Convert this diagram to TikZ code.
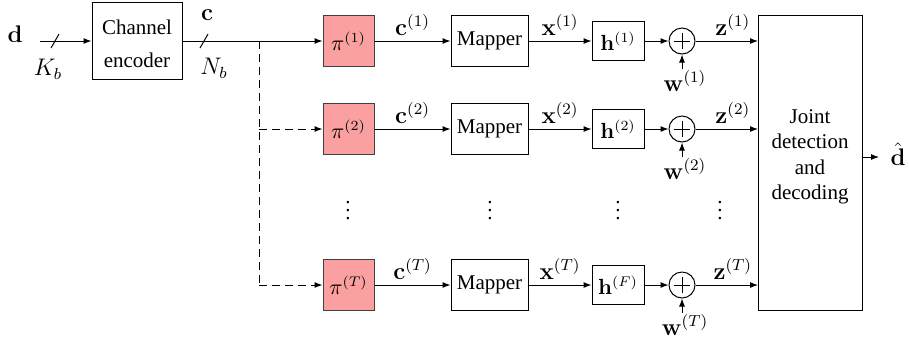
\documentclass[tikz,border=0pt]{standalone}
\usepackage[no-math]{fontspec}
\setmainfont{Liberation Serif}
\usetikzlibrary{arrows.meta}
\definecolor{piPink}{RGB}{250,160,160}
\begin{document}
\begin{tikzpicture}[x=0.5pt,y=-0.5pt,
  font=\fontsize{10.5}{12.75}\selectfont,
  >={Latex[length=4pt,width=3pt]}, line width=0.5pt,
  blk/.style={draw, inner sep=0pt},
  pibox/.style={blk, draw=black!75, fill=piPink, minimum width=25.5pt, minimum height=25.5pt},
  mapbox/.style={blk, minimum width=38.5pt, minimum height=25.5pt},
  hbox/.style={blk, minimum width=26pt, minimum height=19.5pt},
  sumnode/.style={draw, circle, inner sep=0pt, minimum size=13pt},
  lbl/.style={inner sep=1pt, font=\fontsize{12}{14}\selectfont},
  toplbl/.style={lbl, above, inner sep=2.5pt},
  dashline/.style={dash pattern=on 4pt off 2.5pt}]
\useasboundingbox (0,0) rectangle (909,339);

% input side
\node[lbl] (d) at (15,34) {$\mathbf{d}$};
\coordinate (din) at (40,41);
\node[blk, minimum width=45pt, minimum height=38.5pt] (enc) at (137,41) {};
\node[align=center, inner sep=0pt] (enct) at (137,44) {Channel\\[3.5pt]encoder};
\draw[->] (din) -- (enc.west);
\draw ([xshift=-2pt,yshift=-3.5pt]55,41) -- ([xshift=2pt,yshift=3.5pt]55,41);
\node[lbl] (kb) at (48,69) {$K_b$};
\node[lbl] (c) at (207,15) {$\mathbf{c}$};
\node[lbl] (nb) at (214,68) {$N_b$};
\draw ([xshift=-2pt,yshift=-3.5pt]204,41) -- ([xshift=2pt,yshift=3.5pt]204,41);
\coordinate (j1) at (259,41);
\coordinate (j2) at (259,129);
\coordinate (jT) at (259,285);

% rows
\foreach \r/\y/\s/\hs in {1/41/1/1, 2/129/2/2, T/285/T/F} {
  \node[pibox] (pi\r) at (348.5,\y) {$\pi^{(\s)}$};
  \node[mapbox] (map\r) at (489.5,\y) {Mapper};
  \node[hbox] (h\r) at (618,\y) {$\mathbf{h}^{(\hs)}$};
  \node[sumnode] (s\r) at (682,\y) {};
  \draw (s\r.center) +(-4pt,0) -- +(4pt,0) (s\r.center) +(0,-4pt) -- +(0,4pt);
  \coordinate (z\r) at (758,\y);
  \draw[->] (pi\r) -- node[toplbl] {$\mathbf{c}^{(\s)}$} (map\r);
  \draw[->] (map\r) -- node[toplbl] {$\mathbf{x}^{(\s)}$} (h\r);
  \draw[->] (h\r) -- (s\r);
  \draw[->] (s\r) -- node[toplbl, xshift=3pt] {$\mathbf{z}^{(\s)}$} (z\r);
  \node[lbl] (w\r) at (685,\y+40) {$\mathbf{w}^{(\s)}$};
  \coordinate (wa\r) at (682,\y+28);
  \draw[->] (wa\r) -- (s\r);
}

\draw[->] (enc.east) -- (pi1);
\draw[dashline] (j1) -- (jT);
\draw[dashline,->] (j2) -- (pi2);
\draw[dashline,->] (jT) -- (piT);

% vdots
\node[inner sep=0pt] (v1) at (348,205) {$\vdots$};
\node[inner sep=0pt] (v2) at (490,205) {$\vdots$};
\node[inner sep=0pt] (v3) at (618,205) {$\vdots$};
\node[inner sep=0pt] (v4) at (720,205) {$\vdots$};

% joint detection
\node[blk, minimum width=52pt, minimum height=147.5pt] (jd) at (810,162.5) {};
\node[align=center, inner sep=0pt] (jdt) at (810,157) {Joint\\detection\\and\\decoding};
\coordinate (out) at (879,157);
\draw[->] (jd.east |- out) -- (out);
\node[lbl, anchor=west] (dhat) at (888,154) {$\hat{\mathbf{d}}$};
\end{tikzpicture}
\end{document}
